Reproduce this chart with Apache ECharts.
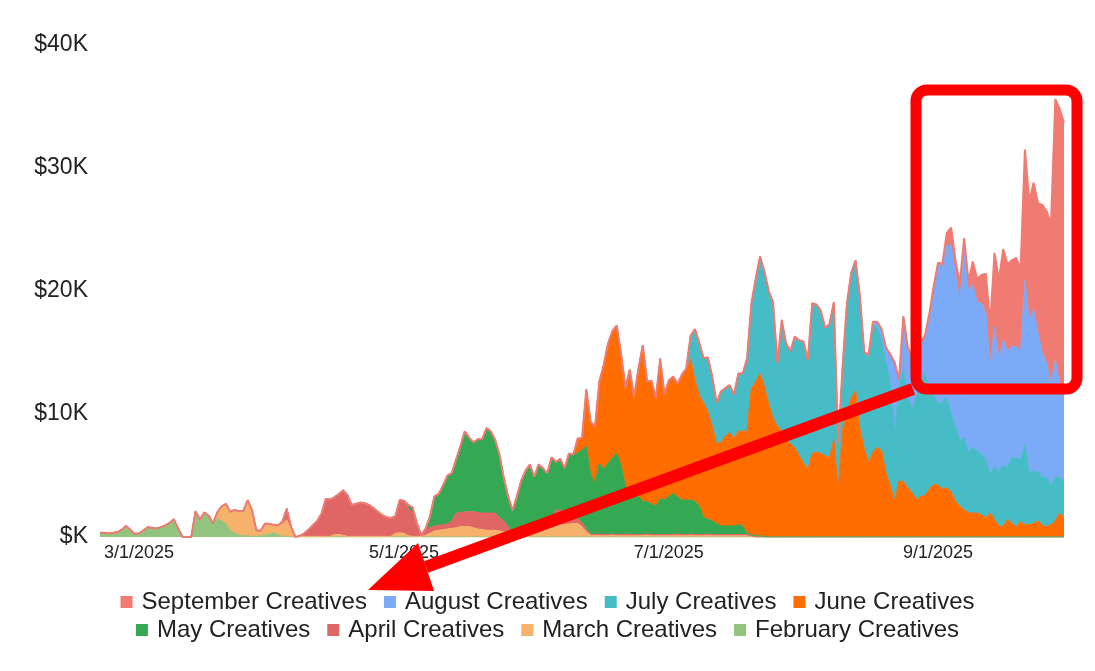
<!DOCTYPE html>
<html>
<head>
<meta charset="utf-8">
<title>Creatives by month</title>
<script src="https://cdn.jsdelivr.net/npm/echarts@6/dist/echarts.min.js"></script>
<style>
    html, body { margin: 0; padding: 0; background: #fff; }
    #mainChart { width: 1095px; height: 671px; }
</style>
</head>
<body>
<div id="mainChart"></div>
<script>
// daily spend per creative month, in $K; each series starts at its own day index
var startDate = [2025, 1, 20];   // Feb 20 2025
var endDate = [2025, 8, 30];     // Sep 30 2025
var xTickLabels = ['3/1/2025', '5/1/2025', '7/1/2025', '9/1/2025'];
var yTickLabels = ['$K', '$10K', '$20K', '$30K', '$40K'];

var seriesNames = ['February Creatives', 'March Creatives', 'April Creatives', 'May Creatives',
    'June Creatives', 'July Creatives', 'August Creatives', 'September Creatives'];
var seriesColors = ['#93C47D', '#F6B26B', '#E06666', '#34A853', '#FF6D01', '#46BDC6', '#7BAAF7', '#F07B72'];

var februaryStart = 0;
var februaryValues = [0.35, 0.35, 0.3, 0.35, 0.4, 0.6, 0.9, 0.6, 0.25, 0.3, 0.55, 0.8, 0.75, 0.7, 0.8, 0.95, 1.15, 1.45, 0.7, 0, 0, 0,
    2.1, 1.4, 2.0, 1.75, 1.1, 1.5, 1.3, 1.1, 0.55, 0.3, 0.15, 0.1, 0.1, 0.05, 0.05, 0.1, 0.15, 0.25, 0.35, 0.2, 0.05, 0.05];

var marchStart = 26;
var marchValues = [0, 0.5, 1.2, 1.6, 1.5, 1.9, 1.95, 2.0, 2.9, 2.15, 0.5, 0.4, 0.95, 0.8, 0.65, 0.75, 1.0, 1.35, 0.6, 0,
    0.05, 0.05, 0.05, 0.05, 0.05, 0.05, 0.05, 0.05, 0.2, 0.2, 0.15,
    0.05, 0.05, 0.05, 0.05, 0.05, 0.05, 0.05, 0.05, 0.05, 0.05, 0.05,
    0.3, 0.35, 0.3, 0.1, 0.05, 0.05, 0.05,
    0.15, 0.3, 0.5, 0.55, 0.6, 0.65, 0.7, 0.75, 0.85, 0.85, 0.85, 0.75, 0.65, 0.6, 0.55, 0.55, 0.55, 0.5, 0.4, 0.35,
    0.25, 0.35, 0.5, 0.65, 0.75, 0.8, 0.8, 0.8, 0.8, 0.85, 0.9, 1.0, 1.0, 1.05, 1.1, 1.1, 0.85, 0.4,
    0.15, 0.1, 0.1, 0.1, 0.1, 0.15, 0.1, 0.1, 0.1, 0.1, 0.1, 0.1, 0.1, 0.15, 0.1, 0.1, 0.1, 0.1, 0.1,
    0.1, 0.1, 0.1, 0.1, 0.15, 0.1, 0.1, 0.1, 0.1, 0.1, 0.1, 0.1, 0.1, 0.1, 0.1, 0.1, 0.1, 0.1, 0.05];

var aprilStart = 42;
var aprilValues = [0.2, 0.9, 0.25, 0, 0.05, 0.25, 0.55, 0.9, 1.25, 1.85, 3.05, 3.0, 3.05, 3.3, 3.65, 3.35, 2.55, 2.65, 2.75, 2.7,
    2.55, 2.3, 2.0, 1.75, 1.55, 1.5, 1.4, 2.65, 2.65, 2.2, 1.95, 0.75, 0.05,
    0.5, 0.45, 0.4, 0.4, 0.4, 0.4, 0.6, 1.2, 1.15, 1.2, 1.2, 1.3, 1.35, 1.35, 1.4, 1.4, 1.4, 1.05, 0.9, 0.5,
    0.1, 0.2, 0.25, 0.25, 0.3, 0.3, 0.3, 0.35, 0.4, 0.6, 1.3, 1.2, 0.4, 0.4, 0.45, 0.4, 0.3, 0.2,
    0.1, 0.1, 0.15, 0.1, 0.1, 0.1, 0.1, 0.1, 0.15, 0.1, 0.1, 0.1, 0.1, 0.1, 0.1, 0.1, 0.1, 0.1, 0.1,
    0.1, 0.15, 0.1, 0.1, 0.1, 0.1, 0.1, 0.1, 0.15, 0.1, 0.1, 0.1, 0.1, 0.1, 0.1, 0.1, 0.1, 0.1, 0.05];

var mayStart = 71;
var mayValues = [0.3, 0.4, 0.3, 0.05, 0.05, 0.95, 2.4, 2.55, 3.2, 3.95, 3.9, 4.35, 5.4, 6.55, 6.05, 5.65, 5.95, 6.0, 6.9, 6.65,
    5.95, 5.15, 3.5, 2.45, 1.8, 2.75, 3.85, 4.5, 4.85, 3.8, 4.8, 4.45, 4.0, 5.05, 3.9, 4.15, 4.2, 5.35, 5.15, 5.3,
    5.95, 6.75, 4.8, 4.2, 5.75, 5.3, 5.8, 6.2, 6.6, 5.6, 3.9, 3.4, 3.2, 3.1, 2.7, 2.6, 2.5, 2.3, 2.9, 2.8,
    3.1, 3.35, 3.0, 2.8, 2.8, 2.75, 2.7, 2.3, 1.4, 1.2, 1.1, 0.9, 0.7, 0.7, 0.7, 0.7, 0.8, 0.7, 0.1, 0.1,
    0.1, 0.1, 0.05];

var juneStart = 110;
var juneValues = [1.2, 0.95, 4.65, 4.3, 4.6, 6.65, 8.5, 9.75, 10.3, 10.4,
    9.1, 8.0, 10.0, 8.0, 10.4, 12.7, 9.8, 10.0, 8.8, 11.4,
    8.6, 9.45, 9.5, 9.1, 10.0, 10.5, 11.45, 9.9, 9.0, 9.3,
    8.7, 7.7, 6.45, 6.8, 7.3, 7.6, 7.1, 7.6, 7.7, 8.3,
    11.9, 12.5, 13.2, 12.15, 10.8, 9.65, 9.0, 8.6, 7.9, 7.6,
    7.25, 6.6, 6.0, 5.5, 6.8, 6.9, 6.8, 6.6, 6.45, 7.95,
    3.85, 8.75, 10.0, 11.3, 11.9, 8.75, 7.2, 6.05, 6.9, 7.3,
    7.0, 5.2, 4.15, 2.95, 4.55, 4.5, 4.0, 3.6, 3.05, 3.3,
    3.4, 3.9, 4.3, 4.2, 3.9, 4.0, 3.65, 2.9, 2.5, 2.2,
    1.95, 1.95, 1.95, 1.8, 1.55, 1.95, 1.4, 0.9, 0.85, 1.45,
    1.1, 0.85, 1.25, 1.0, 1.0, 1.1, 1.3, 0.95, 0.85, 1.0,
    1.3, 1.95, 1.55];

var julyStart = 133;
var julyValues = [0.1, 0.2, 0.2, 1.9, 4.1, 4.3, 3.65,
    4.45, 4.05, 3.35, 4.15, 3.9, 3.85, 3.6, 4.7, 4.7, 5.9,
    6.9, 8.4, 9.5, 9.4, 9.2, 9.45, 5.15, 9.05, 7.85, 7.5,
    9.05, 9.4, 9.9, 8.9, 12.2, 12.0, 11.6, 10.4, 10.9, 11.15,
    3.75, 5.1, 9.0, 10.2, 10.6, 10.85, 7.85, 8.55, 10.45, 9.7,
    9.0, 9.0, 8.35, 5.55, 7.65, 9.1, 7.5, 6.75, 8.35, 9.2,
    9.9, 8.0, 7.3, 6.6, 7.1, 7.35, 6.35, 6.1, 5.3, 5.85,
    4.85, 5.35, 5.05, 4.9, 4.75, 3.15, 4.35, 4.4, 5.0, 4.15,
    5.4, 5.55, 5.05, 6.5, 4.2, 4.3, 4.0, 3.9, 4.0, 3.15,
    3.6, 2.9, 2.95];

var augustStart = 177;
var augustValues = [0.2, 0.15, 0.5,
    0.9, 1.2, 2.35, 5.7, 0.6, 4.35, 4.0, 4.25, 3.8, 3.3,
    3.1, 6.3, 8.8, 11.5, 10.9, 12.35, 13.7, 12.4, 11.4, 15.55,
    13.2, 13.2, 12.1, 12.3, 11.9, 8.8, 11.35, 9.2, 10.15, 9.5,
    9.0, 9.1, 8.8, 13.4, 12.4, 13.1, 11.3, 10.15, 9.3, 8.35,
    9.5, 7.65, 7.0];

var septemberStart = 194;
var septemberValues = [0.3, 1.0, 1.45, 1.1, 1.4, 0.7,
    0.8, 1.9, 1.9, 2.3, 3.2, 3.4, 6.0, 6.4, 7.4, 7.1,
    7.0, 7.2, 6.7, 10.6, 9.7, 10.3, 10.55, 12.0, 12.35, 12.9,
    21.2, 22.3, 22.2];

var seriesStarts = [februaryStart, marchStart, aprilStart, mayStart, juneStart, julyStart, augustStart, septemberStart];
var seriesValues = [februaryValues, marchValues, aprilValues, mayValues, juneValues, julyValues, augustValues, septemberValues];

function buildDays() {
    var days = [];
    var t = Date.UTC(startDate[0], startDate[1], startDate[2]);
    var end = Date.UTC(endDate[0], endDate[1], endDate[2]);
    while (t <= end) {
        var d = new Date(t);
        days.push((d.getUTCMonth() + 1) + '/' + d.getUTCDate() + '/' + d.getUTCFullYear());
        t += 86400000;
    }
    return days;
}

function padSeries(start, values, count) {
    var out = [];
    for (var i = 0; i < count; i++) {
        var k = i - start;
        out.push(k >= 0 && k < values.length ? values[k] : 0);
    }
    return out;
}

function mainChartShow() {
    var days = buildDays();
    var n = echarts.init(document.getElementById('mainChart'));
    var series = [];
    for (var s = 0; s < seriesNames.length; s++) {
        series.push({
            name: seriesNames[s],
            type: 'line',
            stack: 'total',
            symbol: 'none',
            showSymbol: false,
            data: padSeries(seriesStarts[s], seriesValues[s], days.length),
            itemStyle: { color: seriesColors[s] },
            lineStyle: { color: seriesColors[s], width: s === seriesNames.length - 1 ? 2 : 1 },
            areaStyle: { color: seriesColors[s], opacity: 1 }
        });
    }
    var legendText = { fontSize: 24, color: '#222', fontFamily: 'Liberation Sans, Arial, sans-serif', padding: [0, 0, 0, 4] };
    n.setOption({
        backgroundColor: '#fff',
        animation: false,
        grid: { left: 100, right: 31, top: 45, bottom: 134, containLabel: false },
        legend: [
            {
                data: ['September Creatives', 'August Creatives', 'July Creatives', 'June Creatives'],
                left: 'center', top: 585, icon: 'rect', itemWidth: 12, itemHeight: 12, itemGap: 17,
                textStyle: legendText
            },
            {
                data: ['May Creatives', 'April Creatives', 'March Creatives', 'February Creatives'],
                left: 'center', top: 613, icon: 'rect', itemWidth: 12, itemHeight: 12, itemGap: 17,
                textStyle: legendText
            }
        ],
        xAxis: {
            type: 'category',
            boundaryGap: false,
            data: days,
            axisLine: { show: false },
            axisTick: { show: false },
            splitLine: { show: false },
            axisLabel: {
                interval: function (index, value) { return xTickLabels.indexOf(value) >= 0; },
                fontSize: 18, color: '#222', margin: 7,
                fontFamily: 'Liberation Sans, Arial, sans-serif'
            }
        },
        yAxis: {
            type: 'value',
            min: 0, max: 40, interval: 10,
            axisLine: { show: false },
            axisTick: { show: false },
            splitLine: { show: false },
            axisLabel: {
                formatter: function (v) { return yTickLabels[Math.round(v / 10)]; },
                fontSize: 23, color: '#222', margin: 12,
                fontFamily: 'Liberation Sans, Arial, sans-serif'
            }
        },
        series: series,
        // red call-out box round September and arrow to the legend
        graphic: [
            { type: 'rect', z: 100, shape: { x: 916, y: 90, width: 161, height: 299, r: 11 },
              style: { fill: 'none', stroke: '#FF0000', lineWidth: 11 } },
            { type: 'line', z: 100, shape: { x1: 913, y1: 389, x2: 426, y2: 567 },
              style: { stroke: '#FF0000', lineWidth: 12 } },
            { type: 'polygon', z: 100, shape: { points: [[368, 590], [418, 543], [434, 591]] },
              style: { fill: '#FF0000' } }
        ]
    });
}

mainChartShow();
</script>
</body>
</html>
